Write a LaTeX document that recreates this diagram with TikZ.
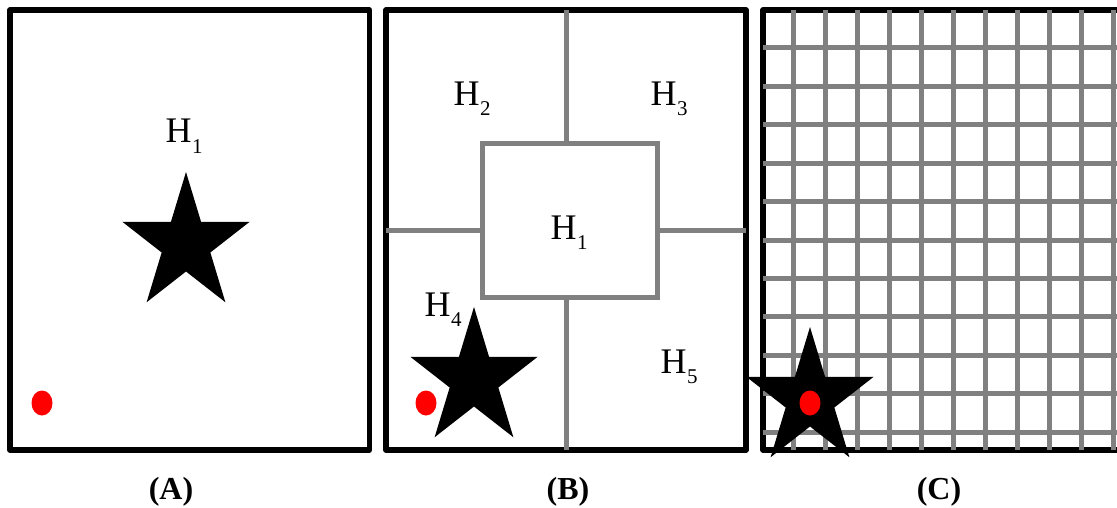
\documentclass[tikz,border=0pt]{standalone}
\usepackage{fontspec}
\setmainfont{Liberation Serif}
\usetikzlibrary{shapes.geometric}
\newcommand{\hlab}[1]{H\kern0.5pt\raisebox{-10pt}{\fontsize{21}{21}\selectfont #1}}

\begin{document}
\begin{tikzpicture}[x=1pt,y=-1pt,
    frame/.style={line width=5.5pt,line join=round},
    part/.style={color=gray,line width=5pt},
    bigstar/.pic={\fill[black] (-90:67 and 72) -- (-54:25.6 and 27.5) -- (-18:67 and 72)
      -- (18:25.6 and 27.5) -- (54:67 and 72) -- (90:25.6 and 27.5) -- (126:67 and 72)
      -- (162:25.6 and 27.5) -- (198:67 and 72) -- (234:25.6 and 27.5) -- cycle ;},
    reddot/.style={ellipse,fill=red,inner sep=0pt,minimum width=21pt,minimum height=25pt},
    hname/.style={anchor=base,inner sep=0pt,font=\fontsize{36}{36}\selectfont},
    caption/.style={anchor=base,inner sep=0pt,font=\fontsize{32}{32}\selectfont\bfseries}]
         \useasboundingbox (0,0) rectangle (1117,508) ;
         \clip (0,0) rectangle (1117,508) ;
         %\draw[very thin,gray,step=50] (0,0) grid (1117,508) ;
         % (A) one cell
         \draw[frame] (10,10) rectangle (369.5,450) ;
         \pic (starA) at (186,244) {bigstar} ;
         \node[reddot] (dotA) at (42,403) {} ;
         \node[hname] (hA1) at (184,143) {\hlab{1}} ;
         \node[caption] (capA) at (171,499) {(A)} ;
         % (B) five cells
         \draw[frame] (386,10) rectangle (746,450) ;
         \draw[part] (482.5,144) rectangle (657.5,297) ;
         \draw[part] (566,10) -- (566,144) ;
         \draw[part] (566,297) -- (566,450) ;
         \draw[part] (386,230) -- (482.5,230) ;
         \draw[part] (657.5,230) -- (746,230) ;
         \pic (starB) at (474,379) {bigstar} ;
         \node[reddot] (dotB) at (426,403) {} ;
         \node[hname] (hB2) at (472,106) {\hlab{2}} ;
         \node[hname] (hB3) at (669,106) {\hlab{3}} ;
         \node[hname] (hB1) at (569,239) {\hlab{1}} ;
         \node[hname] (hB4) at (443,316) {\hlab{4}} ;
         \node[hname] (hB5) at (679,373) {\hlab{5}} ;
         \node[caption] (capB) at (568,499) {(B)} ;
         % (C) fine grid
         \draw[frame] (1125,10) -- (763,10) -- (763,450) -- (1125,450) ;
         \foreach \k in {0,...,10} {
           \draw[part] ({793.3+32*\k},10) -- ({793.3+32*\k},450) ;
           \draw[part] (763,{47.7+38.46*\k}) -- (1125,{47.7+38.46*\k}) ;
         }
         \pic (starC) at (810,399) {bigstar} ;
         \node[reddot] (dotC) at (810,403) {} ;
         \node[caption] (capC) at (939,499) {(C)} ;
       \end{tikzpicture}
\end{document}
